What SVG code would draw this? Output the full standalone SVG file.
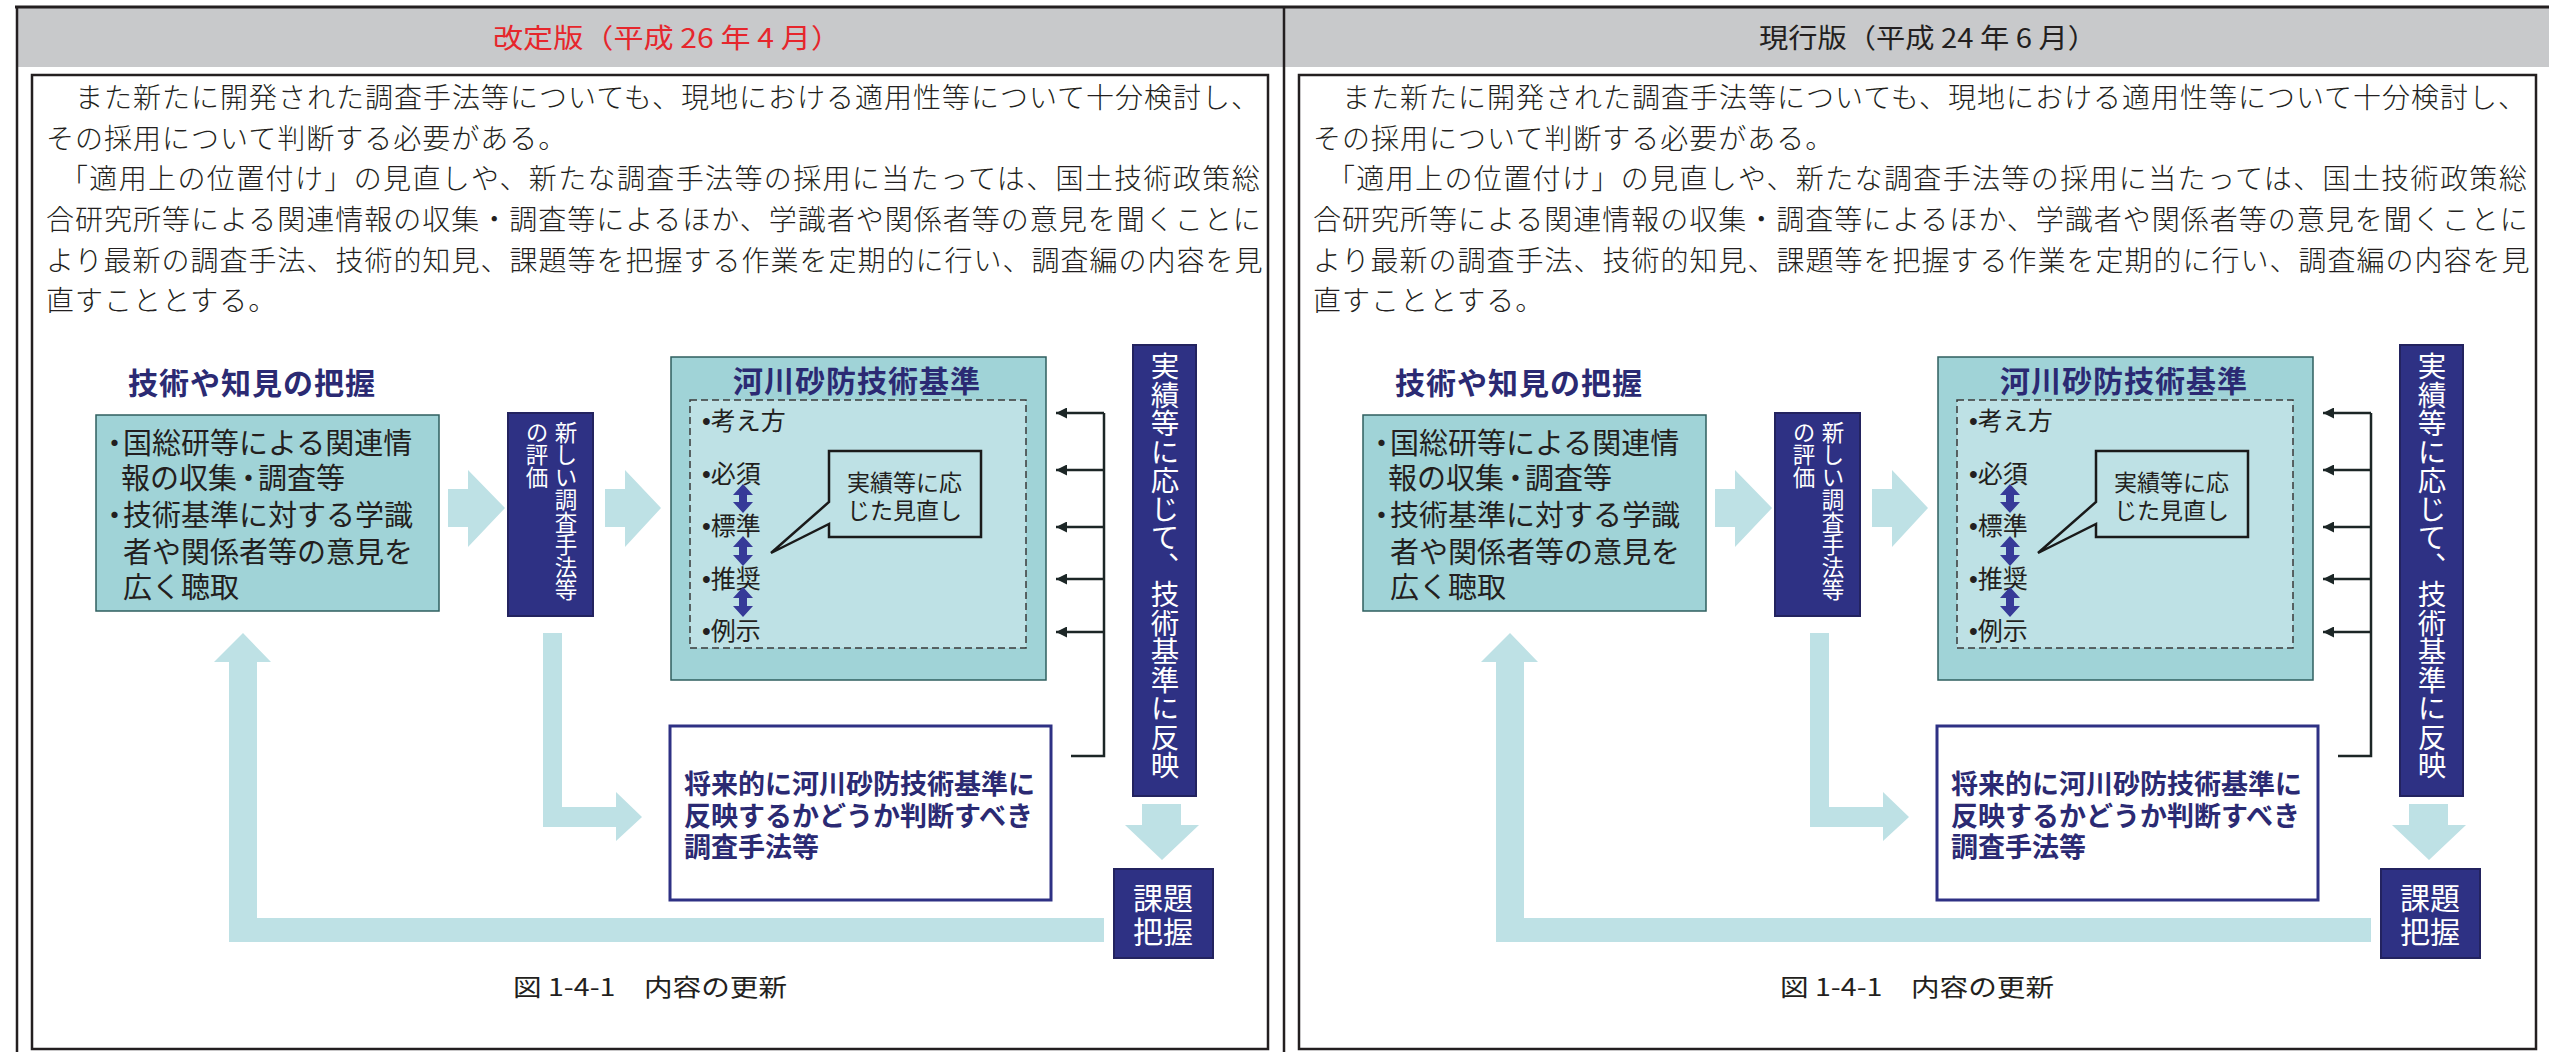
<svg xmlns="http://www.w3.org/2000/svg" width="2549" height="1052" viewBox="0 0 2549 1052">
<defs>
<style>
.frame{fill:none;stroke:#231f20;stroke-width:2.5}
.jp{font-family:"Noto Sans CJK JP","Noto Sans CJK SC",sans-serif}
.body{font-size:28px;fill:#231f20;font-weight:300}
.ttl{font-size:27px}
.head{font-size:30px;font-weight:700;fill:#2b2a73;letter-spacing:1px}
.teal{fill:#a0d3d7;stroke:#2f5f5f;stroke-width:1.5}
.pale{fill:#bee1e5}
.navy{fill:#2e3184;stroke:#23235f;stroke-width:2}
.wv{fill:#ffffff;writing-mode:vertical-rl}
.wt{fill:#ffffff}
.dark{fill:#231f20}
.conn{stroke:#1c2626;stroke-width:2.5;fill:none}
.dbl{fill:#363a98}
.fut{font-size:27px;font-weight:700;fill:#2b2a73}
.item{font-family:"Liberation Sans","Noto Sans CJK JP",sans-serif;font-size:25px;fill:#231f20}
</style>
<marker id="ah" markerUnits="userSpaceOnUse" markerWidth="12" markerHeight="11" refX="11" refY="5.5" orient="auto">
<path d="M0,0 L11,5.5 L0,11 Z" fill="#1c2626"/>
</marker>
</defs>
<rect width="2549" height="1052" fill="#ffffff"/>
<g id="frame">
<rect x="17" y="8" width="2532" height="59" fill="#c8c9cb"/>
<line x1="15" y1="7" x2="2549" y2="7" stroke="#231f20" stroke-width="3"/>
<line x1="17" y1="6" x2="17" y2="1052" stroke="#231f20" stroke-width="2.5"/>
<line x1="1284" y1="6" x2="1284" y2="1052" stroke="#231f20" stroke-width="2.5"/>
<rect class="frame" x="32" y="75" width="1236" height="974"/>
<rect class="frame" x="1299" y="75" width="1237" height="974"/>
</g>

<g id="panel-L">
<g id="title-L"><text class="jp ttl" x="667" y="48" fill="#e6262c" text-anchor="middle" textLength="348" lengthAdjust="spacingAndGlyphs">改定版（平成 26 年 4 月）</text></g>
<g id="body-L">
<text class="jp body"><tspan x="46" y="108" letter-spacing="1">　また新たに開発された調査手法等についても、現地における適用性等について十分検討し、</tspan><tspan x="46" y="148.7" letter-spacing="1">その採用について判断する必要がある。</tspan></text>
<text class="jp body"><tspan x="60" y="189.3" letter-spacing="1.37">「適用上の位置付け」の見直しや、新たな調査手法等の採用に当たっては、国土技術政策総</tspan><tspan x="46" y="229.9" letter-spacing="1">合研究所等による関連情報の収集・調査等によるほか、学識者や関係者等の意見を聞くことに</tspan><tspan x="46" y="270.5" letter-spacing="1">より最新の調査手法、技術的知見、課題等を把握する作業を定期的に行い、調査編の内容を見</tspan><tspan x="46" y="311.1" letter-spacing="1">直すこととする。</tspan></text>
</g>
<g id="connectors-L">
<polygon class="pale" points="448,489 468,489 468,470 505,508 468,547 468,527 448,527"/>
<polygon class="pale" points="605,489 625,489 625,470 661,508 625,547 625,527 605,527"/>
<polygon class="pale" points="543,633 562,633 562,807 616,807 616,792 642,817 616,841 616,827 543,827"/>
<polygon class="pale" points="1142,804 1181,804 1181,825 1199,825 1162,860 1125,825 1142,825"/>
<polygon class="pale" points="1104,918 257,918 257,662 271,662 243,633 214,662 229,662 229,942 1104,942"/>
<polyline class="conn" points="1104,413 1104,756 1071,756"/>
<line class="conn" x1="1104" y1="413" x2="1056" y2="413" marker-end="url(#ah)"/>
<line class="conn" x1="1104" y1="470" x2="1056" y2="470" marker-end="url(#ah)"/>
<line class="conn" x1="1104" y1="527" x2="1056" y2="527" marker-end="url(#ah)"/>
<line class="conn" x1="1104" y1="579" x2="1056" y2="579" marker-end="url(#ah)"/>
<line class="conn" x1="1104" y1="632" x2="1056" y2="632" marker-end="url(#ah)"/>
</g>
<g id="node-knowledge-L">
<text class="jp head" x="128" y="394">技術や知見の把握</text>
<rect class="teal" x="96" y="415" width="343" height="196"/>
<text class="jp dark" font-size="29"><tspan x="100" y="453.5">・</tspan><tspan x="123" y="453.5">国総研等による関連情</tspan><tspan x="121" y="488.5">報の収集</tspan><tspan x="234" y="488.5">・</tspan><tspan x="258" y="488.5">調査等</tspan><tspan x="100" y="526">・</tspan><tspan x="123" y="526">技術基準に対する学識</tspan><tspan x="123" y="562.5">者や関係者等の意見を</tspan><tspan x="123" y="598">広く聴取</tspan></text>
</g>
<g id="node-eval-L">
<rect class="navy" x="508" y="413" width="85" height="203"/>
<text class="jp wv" x="566" y="421" font-size="22.5">新しい調査手法等</text>
<text class="jp wv" x="537" y="421" font-size="22.5">の評価</text>
</g>
<g id="node-standard-L">
<rect class="teal" x="671" y="357" width="375" height="323"/>
<text class="jp head" x="733" y="392">河川砂防技術基準</text>
<rect class="pale" x="690" y="400" width="336" height="248" stroke="#3a3a3a" stroke-width="1.5" stroke-dasharray="7 4"/>
<text class="item"><tspan x="702" y="429.5">•考え方</tspan><tspan x="702" y="482.5">•必須</tspan><tspan x="702" y="534.5">•標準</tspan><tspan x="702" y="587.5">•推奨</tspan><tspan x="702" y="639.5">•例示</tspan></text>
<path class="dbl" d="M743,484 L753,495 L747,495 L747,502 L753,502 L743,513 L733,502 L739,502 L739,495 L733,495 Z"/>
<path class="dbl" d="M743,536 L753,547 L747,547 L747,555 L753,555 L743,566 L733,555 L739,555 L739,547 L733,547 Z"/>
<path class="dbl" d="M743,587 L753,598 L747,598 L747,606 L753,606 L743,617 L733,606 L739,606 L739,598 L733,598 Z"/>
<path d="M829,451 H981 V537 H829 V524 L771,553 L829,502 Z" fill="#bee1e5" stroke="#1a1a1a" stroke-width="2.5" stroke-linejoin="miter"/>
<text class="jp dark" font-size="23"><tspan x="847" y="491">実績等に応</tspan><tspan x="847" y="519">じた見直し</tspan></text>
</g>
<g id="node-future-L">
<rect x="670" y="726" width="381" height="174" fill="#ffffff" stroke="#2e3184" stroke-width="3"/>
<text class="jp fut"><tspan x="684" y="794">将来的に河川砂防技術基準に</tspan><tspan x="684" y="826">反映するかどうか判断すべき</tspan><tspan x="684" y="857">調査手法等</tspan></text>
</g>
<g id="node-reflect-L">
<rect class="navy" x="1133" y="345" width="63" height="451"/>
<text class="jp wv" x="1165" y="352" font-size="28.5">実績等に応じて、技術基準に反映</text>
</g>
<g id="node-issue-L">
<rect class="navy" x="1114" y="869" width="99" height="89"/>
<text class="jp wt" font-size="30" text-anchor="middle"><tspan x="1163" y="909">課題</tspan><tspan x="1163" y="943">把握</tspan></text>
</g>
<g id="caption-L"><text class="jp dark" x="513" y="996" font-size="24" textLength="274" lengthAdjust="spacingAndGlyphs">図 1-4-1　内容の更新</text></g>
</g>

<g id="panel-R" transform="translate(1267,0)">
<g id="title-R"><text class="jp ttl" x="661" y="48" fill="#231f20" text-anchor="middle" textLength="338" lengthAdjust="spacingAndGlyphs">現行版（平成 24 年 6 月）</text></g>
<g id="body-R">
<text class="jp body"><tspan x="46" y="108" letter-spacing="1">　また新たに開発された調査手法等についても、現地における適用性等について十分検討し、</tspan><tspan x="46" y="148.7" letter-spacing="1">その採用について判断する必要がある。</tspan></text>
<text class="jp body"><tspan x="60" y="189.3" letter-spacing="1.37">「適用上の位置付け」の見直しや、新たな調査手法等の採用に当たっては、国土技術政策総</tspan><tspan x="46" y="229.9" letter-spacing="1">合研究所等による関連情報の収集・調査等によるほか、学識者や関係者等の意見を聞くことに</tspan><tspan x="46" y="270.5" letter-spacing="1">より最新の調査手法、技術的知見、課題等を把握する作業を定期的に行い、調査編の内容を見</tspan><tspan x="46" y="311.1" letter-spacing="1">直すこととする。</tspan></text>
</g>
<g id="connectors-R">
<polygon class="pale" points="448,489 468,489 468,470 505,508 468,547 468,527 448,527"/>
<polygon class="pale" points="605,489 625,489 625,470 661,508 625,547 625,527 605,527"/>
<polygon class="pale" points="543,633 562,633 562,807 616,807 616,792 642,817 616,841 616,827 543,827"/>
<polygon class="pale" points="1142,804 1181,804 1181,825 1199,825 1162,860 1125,825 1142,825"/>
<polygon class="pale" points="1104,918 257,918 257,662 271,662 243,633 214,662 229,662 229,942 1104,942"/>
<polyline class="conn" points="1104,413 1104,756 1071,756"/>
<line class="conn" x1="1104" y1="413" x2="1056" y2="413" marker-end="url(#ah)"/>
<line class="conn" x1="1104" y1="470" x2="1056" y2="470" marker-end="url(#ah)"/>
<line class="conn" x1="1104" y1="527" x2="1056" y2="527" marker-end="url(#ah)"/>
<line class="conn" x1="1104" y1="579" x2="1056" y2="579" marker-end="url(#ah)"/>
<line class="conn" x1="1104" y1="632" x2="1056" y2="632" marker-end="url(#ah)"/>
</g>
<g id="node-knowledge-R">
<text class="jp head" x="128" y="394">技術や知見の把握</text>
<rect class="teal" x="96" y="415" width="343" height="196"/>
<text class="jp dark" font-size="29"><tspan x="100" y="453.5">・</tspan><tspan x="123" y="453.5">国総研等による関連情</tspan><tspan x="121" y="488.5">報の収集</tspan><tspan x="234" y="488.5">・</tspan><tspan x="258" y="488.5">調査等</tspan><tspan x="100" y="526">・</tspan><tspan x="123" y="526">技術基準に対する学識</tspan><tspan x="123" y="562.5">者や関係者等の意見を</tspan><tspan x="123" y="598">広く聴取</tspan></text>
</g>
<g id="node-eval-R">
<rect class="navy" x="508" y="413" width="85" height="203"/>
<text class="jp wv" x="566" y="421" font-size="22.5">新しい調査手法等</text>
<text class="jp wv" x="537" y="421" font-size="22.5">の評価</text>
</g>
<g id="node-standard-R">
<rect class="teal" x="671" y="357" width="375" height="323"/>
<text class="jp head" x="733" y="392">河川砂防技術基準</text>
<rect class="pale" x="690" y="400" width="336" height="248" stroke="#3a3a3a" stroke-width="1.5" stroke-dasharray="7 4"/>
<text class="item"><tspan x="702" y="429.5">•考え方</tspan><tspan x="702" y="482.5">•必須</tspan><tspan x="702" y="534.5">•標準</tspan><tspan x="702" y="587.5">•推奨</tspan><tspan x="702" y="639.5">•例示</tspan></text>
<path class="dbl" d="M743,484 L753,495 L747,495 L747,502 L753,502 L743,513 L733,502 L739,502 L739,495 L733,495 Z"/>
<path class="dbl" d="M743,536 L753,547 L747,547 L747,555 L753,555 L743,566 L733,555 L739,555 L739,547 L733,547 Z"/>
<path class="dbl" d="M743,587 L753,598 L747,598 L747,606 L753,606 L743,617 L733,606 L739,606 L739,598 L733,598 Z"/>
<path d="M829,451 H981 V537 H829 V524 L771,553 L829,502 Z" fill="#bee1e5" stroke="#1a1a1a" stroke-width="2.5" stroke-linejoin="miter"/>
<text class="jp dark" font-size="23"><tspan x="847" y="491">実績等に応</tspan><tspan x="847" y="519">じた見直し</tspan></text>
</g>
<g id="node-future-R">
<rect x="670" y="726" width="381" height="174" fill="#ffffff" stroke="#2e3184" stroke-width="3"/>
<text class="jp fut"><tspan x="684" y="794">将来的に河川砂防技術基準に</tspan><tspan x="684" y="826">反映するかどうか判断すべき</tspan><tspan x="684" y="857">調査手法等</tspan></text>
</g>
<g id="node-reflect-R">
<rect class="navy" x="1133" y="345" width="63" height="451"/>
<text class="jp wv" x="1165" y="352" font-size="28.5">実績等に応じて、技術基準に反映</text>
</g>
<g id="node-issue-R">
<rect class="navy" x="1114" y="869" width="99" height="89"/>
<text class="jp wt" font-size="30" text-anchor="middle"><tspan x="1163" y="909">課題</tspan><tspan x="1163" y="943">把握</tspan></text>
</g>
<g id="caption-R"><text class="jp dark" x="513" y="996" font-size="24" textLength="274" lengthAdjust="spacingAndGlyphs">図 1-4-1　内容の更新</text></g>
</g>
</svg>
